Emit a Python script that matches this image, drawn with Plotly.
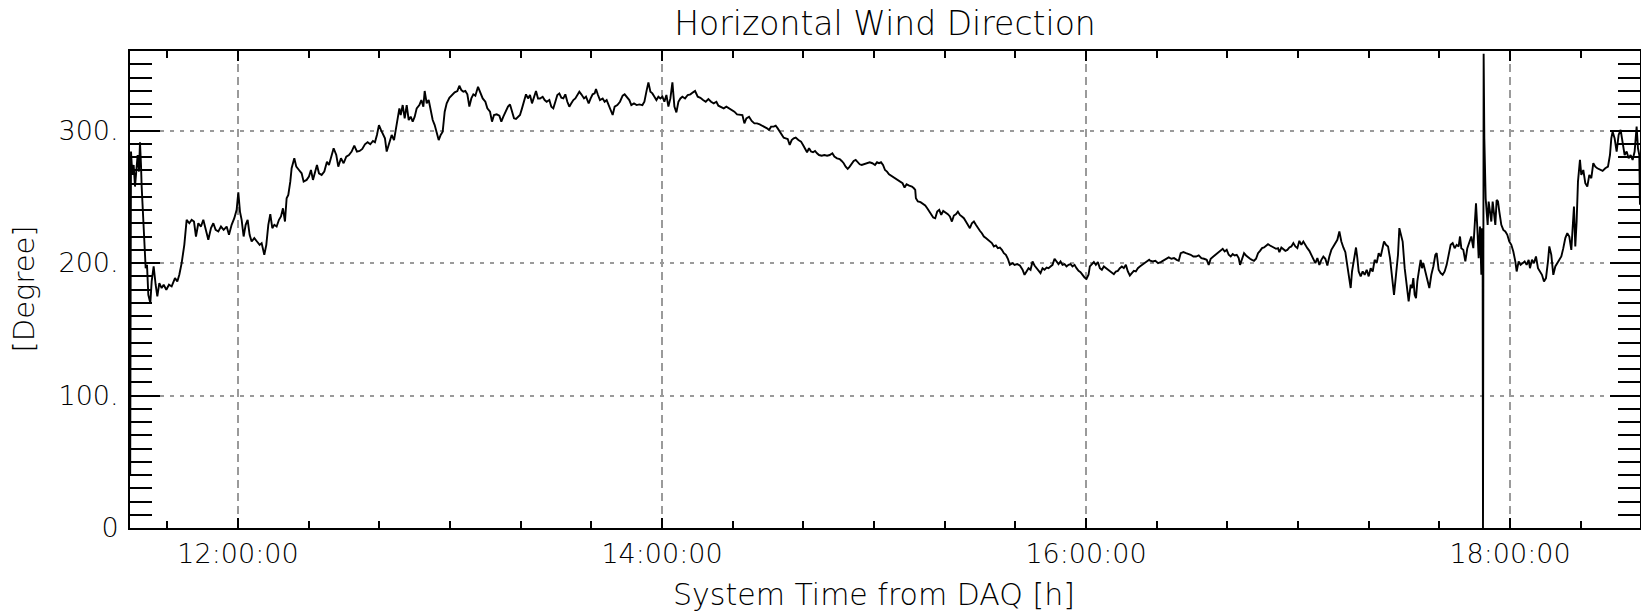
import plotly.graph_objects as go

# ---- data: time of day in decimal hours, horizontal wind direction in degrees ----
seg_a_time = [11.4915, 11.4922, 11.4953, 11.5016, 11.5079, 11.5142, 11.5204, 11.5267, 11.5330, 11.5377,
              11.5425, 11.5456, 11.5645, 11.5708, 11.5770, 11.5865, 11.5928, 11.6022, 11.6116, 11.6195,
              11.6289, 11.6399, 11.6494, 11.6619, 11.6745, 11.6871, 11.7028, 11.7138, 11.7232, 11.7342,
              11.7468, 11.7578, 11.7704, 11.7814, 11.7924, 11.8018, 11.8128, 11.8254, 11.8364, 11.8474,
              11.8600, 11.8726, 11.8836, 11.8946, 11.9072, 11.9197, 11.9323, 11.9465, 11.9575, 11.9700,
              11.9826, 11.9936, 12.0015, 12.0093, 12.0172, 12.0266, 12.0361, 12.0455, 12.0549, 12.0644,
              12.0769, 12.0895, 12.1021, 12.1115, 12.1241, 12.1335, 12.1430, 12.1524, 12.1618, 12.1713,
              12.1823, 12.1933, 12.2027, 12.2121, 12.2216, 12.2294, 12.2373, 12.2467, 12.2530, 12.2656,
              12.2750, 12.2876, 12.3002, 12.3096, 12.3237, 12.3347, 12.3442, 12.3536, 12.3630, 12.3725,
              12.3819, 12.3945, 12.4071, 12.4196, 12.4291, 12.4385, 12.4511, 12.4636, 12.4731, 12.4857,
              12.4982, 12.5108, 12.5234, 12.5360, 12.5485, 12.5611, 12.5737, 12.5863, 12.5988, 12.6114,
              12.6240, 12.6366, 12.6460, 12.6554, 12.6649, 12.6743, 12.6837, 12.6932]
seg_a_deg = [40.0, 281.5, 284.1, 266.5, 274.0, 257.7, 271.5, 281.5, 269.0, 291.1,
             274.0, 257.7, 196.1, 198.6, 176.0, 169.8, 186.1, 197.4, 183.6, 174.8,
             184.8, 181.1, 183.6, 179.8, 183.6, 182.3, 188.6, 186.1, 191.1, 199.9,
             213.7, 232.6, 230.0, 232.6, 231.3, 220.0, 230.0, 227.5, 232.6, 226.3,
             217.5, 226.3, 230.0, 225.0, 223.8, 227.5, 225.0, 227.5, 221.3, 228.8,
             233.8, 240.1, 253.4, 238.8, 232.6, 220.0, 228.8, 232.6, 221.3, 216.2,
             218.8, 216.2, 213.7, 215.0, 206.2, 213.7, 228.8, 236.8, 226.3, 228.8,
             227.5, 232.6, 235.1, 241.3, 231.3, 248.9, 251.4, 261.4, 271.5, 279.0,
             272.7, 270.2, 267.7, 261.4, 262.7, 265.2, 270.2, 262.7, 269.0, 274.0,
             267.7, 266.5, 269.0, 276.5, 274.0, 279.0, 286.6, 281.5, 272.7, 279.0,
             275.3, 280.3, 281.5, 284.1, 288.6, 284.1, 284.6, 286.1, 289.6, 291.1,
             289.6, 292.1, 291.1, 296.6, 304.1, 300.4, 296.6, 294.1]

seg_b_time = [12.7014, 12.7140, 12.7250, 12.7360, 12.7455, 12.7517, 12.7612, 12.7675, 12.7769, 12.7863,
              12.7958, 12.8052, 12.8146, 12.8241, 12.8335, 12.8429, 12.8555, 12.8649, 12.8744, 12.8806,
              12.8901, 12.8995, 12.9089, 12.9184, 12.9278, 12.9372, 12.9467, 12.9561, 12.9655, 12.9750,
              12.9844, 12.9970, 13.0096, 13.0221, 13.0347, 13.0441, 13.0536, 13.0630, 13.0724, 13.0819,
              13.0913, 13.1007, 13.1102, 13.1196, 13.1322, 13.1416, 13.1542, 13.1668, 13.1762, 13.1888,
              13.1982, 13.2076, 13.2202, 13.2328, 13.2422, 13.2516, 13.2642, 13.2736, 13.2831, 13.2925,
              13.3019, 13.3114, 13.3208, 13.3302, 13.3397, 13.3491, 13.3585, 13.3680, 13.3774, 13.3868,
              13.3963, 13.4057, 13.4151, 13.4246, 13.4371, 13.4466, 13.4560, 13.4686, 13.4780, 13.4874,
              13.4969, 13.5063, 13.5157, 13.5252, 13.5346, 13.5440, 13.5535, 13.5629, 13.5723, 13.5818,
              13.5912, 13.6006, 13.6101, 13.6195, 13.6321, 13.6415, 13.6541, 13.6635, 13.6729, 13.6824,
              13.6887, 13.6981, 13.7075, 13.7201, 13.7295, 13.7390, 13.7484, 13.7578, 13.7673, 13.7767,
              13.7893, 13.8018, 13.8144, 13.8238, 13.8333, 13.8459, 13.8553, 13.8679, 13.8804, 13.8930]
seg_b_deg = [284.1, 290.3, 296.6, 292.8, 301.6, 307.9, 316.7, 311.7, 319.2, 309.2,
             319.2, 307.9, 310.4, 306.7, 310.4, 316.7, 319.2, 323.0, 318.0, 329.8,
             320.5, 323.0, 315.5, 307.9, 304.1, 299.1, 292.8, 296.6, 299.1, 314.2,
             320.5, 324.7, 326.8, 328.8, 329.8, 333.8, 330.5, 329.3, 329.8, 327.3,
             318.0, 324.2, 327.3, 326.3, 333.0, 329.3, 324.2, 321.7, 316.7, 314.2,
             306.7, 311.7, 312.2, 311.2, 306.7, 310.4, 314.7, 318.0, 319.7, 314.2,
             309.2, 308.7, 310.4, 311.7, 316.7, 321.7, 327.3, 324.2, 326.8, 320.5,
             325.5, 329.8, 324.2, 324.2, 325.5, 323.0, 321.7, 323.0, 318.0, 316.7,
             321.7, 326.8, 328.0, 324.7, 324.2, 327.3, 321.7, 318.0, 320.5, 323.0,
             324.2, 326.3, 329.3, 327.3, 324.2, 325.5, 320.5, 324.2, 327.3, 328.0,
             331.3, 326.8, 323.0, 324.2, 321.7, 323.0, 319.2, 316.7, 311.7, 318.0,
             319.2, 321.7, 326.3, 327.3, 325.5, 323.0, 319.2, 320.5, 319.2, 319.7]

seg_c_time = [13.9076, 13.9170, 13.9264, 13.9359, 13.9453, 13.9547, 13.9642, 13.9736, 13.9830, 13.9925,
              14.0019, 14.0113, 14.0208, 14.0302, 14.0396, 14.0491, 14.0585, 14.0679, 14.0774, 14.0868,
              14.0962, 14.1088, 14.1214, 14.1340, 14.1465, 14.1560, 14.1685, 14.1811, 14.1937, 14.2063,
              14.2188, 14.2314, 14.2440, 14.2566, 14.2660, 14.2786, 14.2912, 14.3037, 14.3163, 14.3289,
              14.3415, 14.3540, 14.3666, 14.3792, 14.3886, 14.3980, 14.4106, 14.4232, 14.4358, 14.4484,
              14.4609, 14.4735, 14.4861, 14.4955, 14.5049, 14.5144, 14.5270, 14.5364, 14.5458, 14.5552,
              14.5647, 14.5741, 14.5835, 14.5930, 14.6024, 14.6118, 14.6213, 14.6307, 14.6433, 14.6559,
              14.6653, 14.6747, 14.6842, 14.6936, 14.7030, 14.7124, 14.7219, 14.7313, 14.7407, 14.7533,
              14.7659, 14.7785, 14.7910, 14.8036, 14.8131, 14.8256, 14.8382, 14.8476, 14.8571, 14.8665,
              14.8759, 14.8854, 14.8948, 14.9042, 14.9137, 14.9231, 14.9325, 14.9420, 14.9545, 14.9671,
              14.9797, 14.9923, 15.0048, 15.0143, 15.0237, 15.0331, 15.0426, 15.0520, 15.0614, 15.0709,
              15.0803, 15.0929]
seg_c_deg = [319.2, 321.7, 329.3, 336.3, 329.3, 328.0, 325.5, 323.0, 325.5, 324.2,
             325.5, 321.7, 326.8, 318.0, 324.2, 336.3, 318.0, 313.7, 321.7, 324.2,
             325.5, 324.2, 326.8, 327.3, 328.8, 329.8, 325.5, 324.7, 323.0, 321.7,
             323.7, 321.7, 320.5, 321.7, 318.7, 318.0, 316.7, 318.0, 316.7, 315.5,
             314.2, 312.2, 312.2, 311.7, 305.4, 309.2, 310.4, 307.2, 305.4, 305.4,
             304.6, 303.6, 302.9, 301.6, 300.4, 302.9, 302.9, 303.6, 301.6, 299.1,
             296.6, 294.6, 294.1, 293.6, 289.1, 292.8, 294.1, 294.6, 292.8, 291.6,
             289.1, 286.1, 283.6, 286.6, 284.1, 283.6, 284.6, 282.8, 281.5, 281.0,
             281.5, 281.0, 281.5, 282.8, 280.3, 279.0, 278.5, 277.0, 275.3, 272.7,
             271.0, 272.7, 274.5, 277.0, 277.8, 276.0, 274.5, 274.0, 274.5, 275.3,
             276.0, 275.3, 274.0, 276.0, 275.3, 276.0, 274.0, 270.2, 269.0, 267.0,
             266.0, 264.5]

seg_d_time = [15.1096, 15.1222, 15.1347, 15.1442, 15.1536, 15.1662, 15.1788, 15.1882, 15.1945, 15.1976,
              15.2070, 15.2196, 15.2322, 15.2416, 15.2511, 15.2605, 15.2699, 15.2794, 15.2888, 15.2982,
              15.3077, 15.3171, 15.3265, 15.3360, 15.3485, 15.3580, 15.3674, 15.3768, 15.3863, 15.3957,
              15.4051, 15.4146, 15.4240, 15.4334, 15.4428, 15.4523, 15.4617, 15.4711, 15.4806, 15.4900,
              15.4994, 15.5089, 15.5183, 15.5277, 15.5372, 15.5466, 15.5560, 15.5655, 15.5749, 15.5843,
              15.5938, 15.6032, 15.6126, 15.6221, 15.6315, 15.6409, 15.6535, 15.6629, 15.6755, 15.6881,
              15.7007, 15.7101, 15.7195, 15.7290, 15.7384, 15.7478, 15.7572, 15.7667, 15.7761, 15.7855,
              15.7950, 15.8044, 15.8138, 15.8233, 15.8327, 15.8421, 15.8516, 15.8610, 15.8704, 15.8799,
              15.8893, 15.8987, 15.9082, 15.9176, 15.9270, 15.9365, 15.9459, 15.9553, 15.9648, 15.9742,
              15.9836, 15.9930, 16.0025, 16.0119, 16.0182, 16.0276, 16.0371, 16.0465, 16.0559, 16.0654,
              16.0748, 16.0842, 16.0937, 16.1031, 16.1125, 16.1220, 16.1314, 16.1408, 16.1502, 16.1597,
              16.1691, 16.1785, 16.1880, 16.1974, 16.2068, 16.2163, 16.2257, 16.2351, 16.2446, 16.2540,
              16.2634, 16.2729, 16.2854, 16.2980]
seg_d_deg = [262.7, 261.9, 260.2, 256.9, 259.4, 258.4, 257.7, 256.4, 255.2, 248.9,
             246.4, 245.9, 244.4, 243.4, 241.3, 238.8, 236.3, 234.3, 233.8, 238.8,
             240.1, 236.3, 239.3, 238.3, 236.8, 235.1, 231.3, 235.8, 236.8, 238.8,
             236.3, 235.1, 233.8, 231.3, 228.8, 226.3, 230.0, 231.3, 228.8, 226.3,
             224.3, 222.5, 220.0, 218.8, 217.5, 215.7, 215.0, 212.5, 213.2, 211.2,
             211.7, 209.9, 207.4, 206.2, 203.2, 198.6, 199.9, 198.6, 199.2, 198.1,
             194.9, 191.1, 194.1, 196.1, 194.9, 201.2, 198.1, 196.1, 194.1, 192.4,
             196.1, 194.9, 196.6, 196.1, 197.4, 198.6, 203.2, 201.2, 199.2, 201.2,
             198.6, 199.2, 197.4, 198.6, 199.2, 197.4, 198.6, 196.1, 194.1, 193.1,
             191.1, 189.1, 188.1, 191.1, 197.4, 199.2, 200.7, 198.6, 200.7, 196.1,
             194.9, 197.4, 196.1, 194.9, 193.6, 192.4, 191.6, 193.6, 194.1, 196.1,
             197.4, 196.1, 198.6, 193.6, 190.6, 192.4, 194.1, 193.6, 196.1, 197.4,
             198.6, 199.9, 201.2, 202.4]

seg_e_time = [16.3022, 16.3147, 16.3273, 16.3399, 16.3525, 16.3650, 16.3776, 16.3902, 16.4028, 16.4153,
              16.4279, 16.4374, 16.4468, 16.4594, 16.4719, 16.4845, 16.4939, 16.5065, 16.5191, 16.5317,
              16.5442, 16.5568, 16.5694, 16.5788, 16.5883, 16.6008, 16.6134, 16.6260, 16.6354, 16.6449,
              16.6543, 16.6637, 16.6732, 16.6826, 16.6920, 16.7014, 16.7109, 16.7203, 16.7266, 16.7360,
              16.7455, 16.7549, 16.7643, 16.7738, 16.7832, 16.7926, 16.8021, 16.8115, 16.8209, 16.8304,
              16.8398, 16.8492, 16.8586, 16.8681, 16.8775, 16.8869, 16.8964, 16.9058, 16.9121, 16.9215,
              16.9310, 16.9404, 16.9498, 16.9593, 16.9687, 16.9781, 16.9876, 16.9970, 17.0064, 17.0158,
              17.0253, 17.0347, 17.0441, 17.0536, 17.0630, 17.0724, 17.0819, 17.0913, 17.1007, 17.1102,
              17.1196, 17.1290, 17.1385, 17.1479, 17.1573, 17.1668, 17.1762, 17.1856, 17.1951, 17.2045,
              17.2139, 17.2234, 17.2296, 17.2359, 17.2422, 17.2485, 17.2548, 17.2642, 17.2736, 17.2799,
              17.2862, 17.2957, 17.3051, 17.3145, 17.3240, 17.3334, 17.3428, 17.3523, 17.3617, 17.3711,
              17.3806, 17.3900, 17.3994, 17.4057, 17.4151, 17.4246, 17.4340, 17.4434, 17.4529, 17.4623,
              17.4717, 17.4780]
seg_e_deg = [201.7, 201.2, 201.7, 199.9, 200.7, 201.7, 203.2, 204.2, 203.2, 203.7,
             202.4, 201.7, 207.4, 208.2, 207.4, 206.7, 206.2, 204.9, 204.9, 205.7,
             203.7, 203.2, 202.4, 198.6, 203.2, 204.9, 206.7, 208.2, 209.2, 210.7,
             208.7, 209.9, 206.2, 204.9, 206.7, 205.7, 206.2, 203.7, 198.6, 202.4,
             207.4, 205.7, 204.2, 203.2, 202.4, 201.7, 203.2, 207.4, 209.2, 211.2,
             211.7, 213.2, 214.2, 213.2, 212.5, 211.7, 210.7, 211.2, 208.2, 211.7,
             210.7, 209.2, 209.9, 211.7, 212.5, 215.0, 212.5, 211.2, 216.7, 213.7,
             216.2, 213.2, 211.2, 209.2, 206.2, 203.2, 199.9, 203.7, 198.6, 202.4,
             204.9, 203.2, 198.1, 204.9, 209.9, 212.5, 215.0, 217.5, 223.8, 216.2,
             211.7, 208.2, 201.2, 193.6, 189.9, 181.1, 193.6, 201.2, 211.7, 203.7,
             193.6, 189.9, 193.6, 191.1, 194.9, 189.9, 196.1, 193.6, 202.4, 199.9,
             207.4, 204.9, 211.2, 216.2, 213.7, 212.5, 203.7, 191.1, 176.0, 191.1,
             206.2, 226.3]

seg_f_time = [17.4937, 17.5032, 17.5126, 17.5220, 17.5315, 17.5378, 17.5440, 17.5503, 17.5566, 17.5629,
              17.5723, 17.5786, 17.5849, 17.5912, 17.6006, 17.6101, 17.6195, 17.6289, 17.6384, 17.6478,
              17.6541, 17.6635, 17.6729, 17.6824, 17.6918, 17.7012, 17.7107, 17.7201, 17.7295, 17.7390,
              17.7484, 17.7578, 17.7641, 17.7704, 17.7798, 17.7893, 17.7987, 17.8081, 17.8176, 17.8270,
              17.8333, 17.8396, 17.8459, 17.8522, 17.8584, 17.8647, 17.8679, 17.8710, 17.8726, 17.8757,
              17.8789, 17.8820, 17.8852, 17.8899, 17.8946, 17.8993, 17.9056, 17.9119, 17.9182, 17.9245,
              17.9308, 17.9370, 17.9433, 17.9496, 17.9590, 17.9685, 17.9779, 17.9873, 17.9968, 18.0062,
              18.0156, 18.0251, 18.0314, 18.0408, 18.0502, 18.0597, 18.0691, 18.0785, 18.0880, 18.0942,
              18.1037, 18.1131, 18.1225, 18.1320, 18.1414, 18.1508, 18.1603, 18.1697, 18.1791, 18.1854,
              18.1948, 18.2043, 18.2137, 18.2231, 18.2326, 18.2420, 18.2514, 18.2609, 18.2703, 18.2797,
              18.2892, 18.2955, 18.3017, 18.3080, 18.3143, 18.3206, 18.3300, 18.3363, 18.3458, 18.3552,
              18.3646, 18.3741, 18.3835, 18.3929, 18.4024, 18.4118, 18.4244, 18.4369, 18.4495, 18.4621,
              18.4715, 18.4778, 18.4841, 18.4935, 18.5030, 18.5124, 18.5218, 18.5313, 18.5407, 18.5501,
              18.5596, 18.5690, 18.5784, 18.5878, 18.5973, 18.6036, 18.6099, 18.6130]
seg_f_deg = [216.2, 196.1, 181.1, 171.0, 183.6, 181.1, 188.6, 176.0, 173.5, 186.1,
             196.1, 202.4, 196.1, 199.9, 193.6, 186.1, 181.1, 191.1, 197.4, 206.2,
             207.4, 194.9, 192.4, 191.1, 193.6, 198.6, 206.2, 213.7, 215.0, 211.2,
             213.7, 212.5, 220.0, 211.2, 209.9, 201.2, 211.2, 216.2, 220.0, 211.2,
             226.3, 245.1, 226.3, 203.7, 227.5, 191.1, 226.3, 193.6, 0.0, 358.0,
             294.1, 261.4, 248.9, 238.8, 228.8, 246.4, 236.3, 231.3, 246.4, 238.8,
             228.8, 247.6, 246.4, 238.8, 228.8, 225.0, 223.8, 221.3, 216.2, 213.7,
             208.7, 201.2, 193.6, 201.2, 198.6, 199.9, 201.2, 198.6, 202.4, 196.1,
             202.4, 199.9, 204.9, 196.1, 193.6, 191.1, 186.1, 188.6, 201.2, 212.5,
             206.2, 191.1, 197.4, 199.9, 202.4, 204.9, 211.2, 218.8, 222.5, 220.0,
             209.9, 226.3, 242.6, 212.5, 231.3, 261.4, 277.8, 266.5, 270.2, 260.2,
             257.7, 266.5, 264.0, 275.3, 272.7, 271.5, 270.2, 269.5, 271.5, 272.7,
             281.5, 294.1, 299.1, 294.1, 284.1, 296.6, 300.4, 291.6, 281.5, 284.1,
             279.0, 281.5, 277.8, 284.1, 302.9, 286.6, 281.5, 243.9]

time_h = seg_a_time + seg_b_time + seg_c_time + seg_d_time + seg_e_time + seg_f_time
direction_deg = seg_a_deg + seg_b_deg + seg_c_deg + seg_d_deg + seg_e_deg + seg_f_deg

# ---- axes / labels ----
x_range = [11.4906, 18.6132]
y_range = [0, 360]
x_major = [12, 14, 16, 18]
x_major_text = ["12:00:00", "14:00:00", "16:00:00", "18:00:00"]
y_major = [0, 100, 200, 300]
y_major_text = ["0", "100.", "200.", "300."]

FONT = "DejaVu Sans ExtraLight, DejaVu Sans Light, DejaVu Sans"

fig = go.Figure(
    go.Scatter(x=time_h, y=direction_deg, mode="lines",
               line=dict(color="black", width=1.9), hoverinfo="skip")
)

fig.update_layout(
    width=1641, height=616,
    margin=dict(l=130, r=1, t=51, b=88),
    paper_bgcolor="white", plot_bgcolor="white",
    showlegend=False,
    font=dict(family=FONT, color="black", size=26),
    title=dict(text="Horizontal Wind Direction", x=0.5, xref="paper", xanchor="center",
               y=1 - 23 / 616, yref="container", yanchor="middle",
               font=dict(family=FONT, size=33, color="black")),
    annotations=[
        dict(text="System Time from DAQ [h]", xref="paper", yref="paper", x=0.5, y=0,
             yshift=-66, xshift=-11, xanchor="center", yanchor="middle", showarrow=False,
             font=dict(family=FONT, size=30, color="black")),
        dict(text="[Degree]", xref="paper", yref="paper", x=0, y=0.5, xshift=-107, yshift=0,
             textangle=-90, xanchor="center", yanchor="middle", showarrow=False,
             font=dict(family=FONT, size=29, color="black")),
    ],
)

fig.update_xaxes(
    range=x_range, automargin=False,
    tickmode="array", tickvals=x_major, ticktext=x_major_text,
    ticks="inside", ticklen=10, tickwidth=2, tickcolor="black",
    showline=True, linewidth=2, linecolor="black", mirror="ticks",
    showgrid=True, gridcolor="#9a9a9a", gridwidth=1.5, griddash="8px,5px",
    zeroline=False, ticklabelstandoff=1,
    tickfont=dict(family=FONT, size=27, color="black"),
    minor=dict(tickmode="linear", tick0=12, dtick=1 / 3, ticks="inside", ticklen=7,
               tickwidth=2, tickcolor="black", showgrid=False),
)

fig.update_yaxes(
    range=y_range, automargin=False,
    tickmode="array", tickvals=y_major, ticktext=y_major_text,
    ticks="inside", ticklen=30, tickwidth=2, tickcolor="black",
    showline=True, linewidth=2, linecolor="black", mirror="ticks",
    showgrid=True, gridcolor="#9a9a9a", gridwidth=1.5, griddash="4px,6px",
    zeroline=False, ticklabelstandoff=4,
    tickfont=dict(family=FONT, size=27, color="black"),
    minor=dict(tickmode="linear", tick0=0, dtick=10, ticks="inside", ticklen=22,
               tickwidth=2, tickcolor="black", showgrid=False),
)

fig.write_html(
    "out.html",
    config={"displayModeBar": False},
    post_script="document.body.style.margin='0px';document.body.style.padding='0px';"
                "document.body.style.overflow='hidden';",
)
